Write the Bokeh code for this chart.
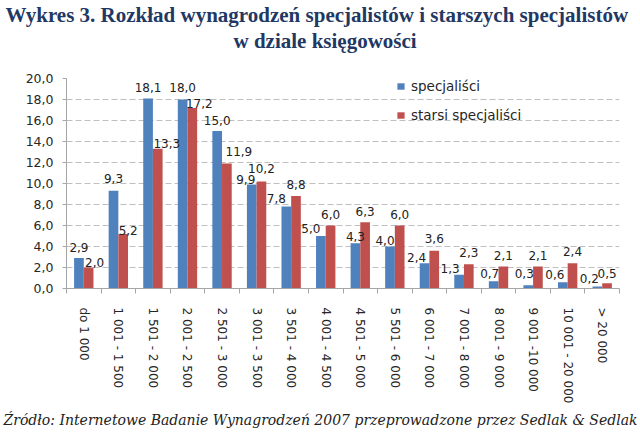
import numpy as np
from bokeh.plotting import figure
from bokeh.models import (ColumnDataSource, Range1d, FixedTicker, Title, Legend, LegendItem)
from bokeh.core.properties import value
from bokeh.embed import file_html
from bokeh.resources import INLINE

categories = ["do 1 000", "1 001 - 1 500", "1 501 - 2 000", "2 001 - 2 500",
              "2 501 - 3 000", "3 001 - 3 500", "3 501 - 4 000", "4 001 - 4 500",
              "4 501 - 5 000", "5 501 - 6 000", "6 001 - 7 000", "7 001 - 8 000",
              "8 001 - 9 000", "9 001 -10 000", "10 001 - 20 000", "> 20 000"]
specjalisci = [2.9, 9.3, 18.1, 18.0, 15.0, 9.9, 7.8, 5.0, 4.3, 4.0, 2.4, 1.3, 0.7, 0.3, 0.6, 0.2]
starsi = [2.0, 5.2, 13.3, 17.2, 11.9, 10.2, 8.8, 6.0, 6.3, 6.0, 3.6, 2.3, 2.1, 2.1, 2.4, 0.5]
y_ticks = [0, 2, 4, 6, 8, 10, 12, 14, 16, 18, 20]

# label nudges (pixels) - styling only
blue_dx = [0, 0, 0, 0, 0, -6, -10, -10, 0, -5, -8, -9, -4, -4, -8, -8]
blue_gap = [9, 10, 9, 10, 9, 3, 6, 6, 5, 4, 4, 4, 6, 10, 6, 6]
red_dx = [6, 5, 9, 7, 12, 0, 0, 0, 0, 0, 0, 0, 0, 0, 0, 0]
red_gap = [3, 1, 3, 2, 10, 11, 10, 9, 9, 9, 10, 10, 9, 9, 10, 8]

BLUE = "#4F81BD"
RED = "#C0504D"
SANS = "DejaVu Sans"
TITLE_C = "#1F3864"

def fmt(v):
    return f"{v:.1f}".replace(".", ",")

n = len(categories)
idx = np.arange(n)
bw = 0.28
src_b = ColumnDataSource(dict(x=idx + 0.5 - bw / 2, top=specjalisci,
                              lab=[fmt(v) for v in specjalisci],
                              dx=blue_dx, dy=[-(g + 2) for g in blue_gap]))
src_r = ColumnDataSource(dict(x=idx + 0.5 + bw / 2, top=starsi,
                              lab=[fmt(v) for v in starsi],
                              dx=red_dx, dy=[-(g + 2) for g in red_gap]))

p = figure(width=640, height=434, output_backend="svg", toolbar_location=None,
           x_range=Range1d(0, n), y_range=Range1d(0, 20),
           min_border_left=66, min_border_right=21, min_border_top=76, min_border_bottom=146)
p.outline_line_color = None
p.background_fill_color = "white"
p.border_fill_color = "white"

rb = p.vbar(x="x", top="top", width=bw, bottom=0, source=src_b, fill_color=BLUE, line_color=None)
rr = p.vbar(x="x", top="top", width=bw, bottom=0, source=src_r, fill_color=RED, line_color=None)

for src in (src_b, src_r):
    p.text(x="x", y="top", text="lab", x_offset="dx", y_offset="dy", source=src,
           text_align="center", text_baseline="alphabetic",
           text_font=value(SANS), text_font_size="12px", text_color="#222222")

# axes
p.xaxis.ticker = FixedTicker(ticks=list(idx + 0.5), minor_ticks=list(range(n + 1)))
p.xaxis.major_label_overrides = {float(i + 0.5): c for i, c in enumerate(categories)}
p.xaxis.major_label_orientation = "vertical"
p.xaxis.major_tick_out = 0
p.xaxis.major_tick_in = 0
p.xaxis.minor_tick_out = 5
p.xaxis.minor_tick_in = 0
p.xaxis.minor_tick_line_color = "#A6A6A6"
p.xaxis.axis_line_color = "#A6A6A6"
p.xaxis.major_label_standoff = 14
p.xaxis.major_label_text_font = SANS
p.xaxis.major_label_text_font_size = "12px"
p.xaxis.major_label_text_color = "#262626"

p.yaxis.ticker = FixedTicker(ticks=y_ticks)
p.yaxis.major_label_overrides = {t: fmt(t) for t in y_ticks}
p.yaxis.major_tick_out = 4
p.yaxis.major_tick_in = 0
p.yaxis.minor_tick_line_color = None
p.yaxis.major_tick_line_color = "#A6A6A6"
p.yaxis.axis_line_color = "#A6A6A6"
p.yaxis.major_label_standoff = 9
p.yaxis.major_label_text_font = SANS
p.yaxis.major_label_text_font_size = "12.5px"
p.yaxis.major_label_text_color = "#262626"

p.xgrid.grid_line_color = None
p.ygrid.grid_line_color = "#BFBFBF"
p.ygrid.grid_line_dash = "6 3"
p.ygrid.ticker = FixedTicker(ticks=y_ticks[1:])

legend = Legend(items=[LegendItem(label="specjaliści", renderers=[rb]),
                       LegendItem(label="starsi specjaliści", renderers=[rr])],
                location=(330, 165), orientation="vertical",
                glyph_width=9, glyph_height=8, label_height=8, label_width=20,
                label_standoff=6, spacing=13, padding=0, margin=0,
                border_line_color=None, background_fill_alpha=0,
                label_text_font=SANS, label_text_font_size="13.5px",
                label_text_color="#262626")
p.add_layout(legend, "center")

p.title.text = ""
# spacer between frame and title lines
p.add_layout(Title(text=" ", text_font_size="1px", standoff=23), "above")
p.add_layout(Title(text="w dziale księgowości", align="left", offset=167,
                   vertical_align="bottom", standoff=0,
                   text_font="Liberation Serif", text_font_style="bold",
                   text_font_size="21px", text_color=TITLE_C), "above")
p.add_layout(Title(text="Wykres 3. Rozkład wynagrodzeń specjalistów i starszych specjalistów",
                   align="left", offset=-61, vertical_align="bottom", standoff=0,
                   text_font="Liberation Serif", text_font_style="bold",
                   text_font_size="21px", text_color=TITLE_C), "above")
p.add_layout(Title(text="Źródło: Internetowe Badanie Wynagrodzeń 2007 przeprowadzone przez Sedlak & Sedlak",
                   align="left", offset=-63, vertical_align="bottom", standoff=6,
                   text_font="DejaVu Serif", text_font_style="italic",
                   text_font_size="14px", text_color="#222222"), "below")

open("out.html", "w").write(file_html(p, INLINE))
